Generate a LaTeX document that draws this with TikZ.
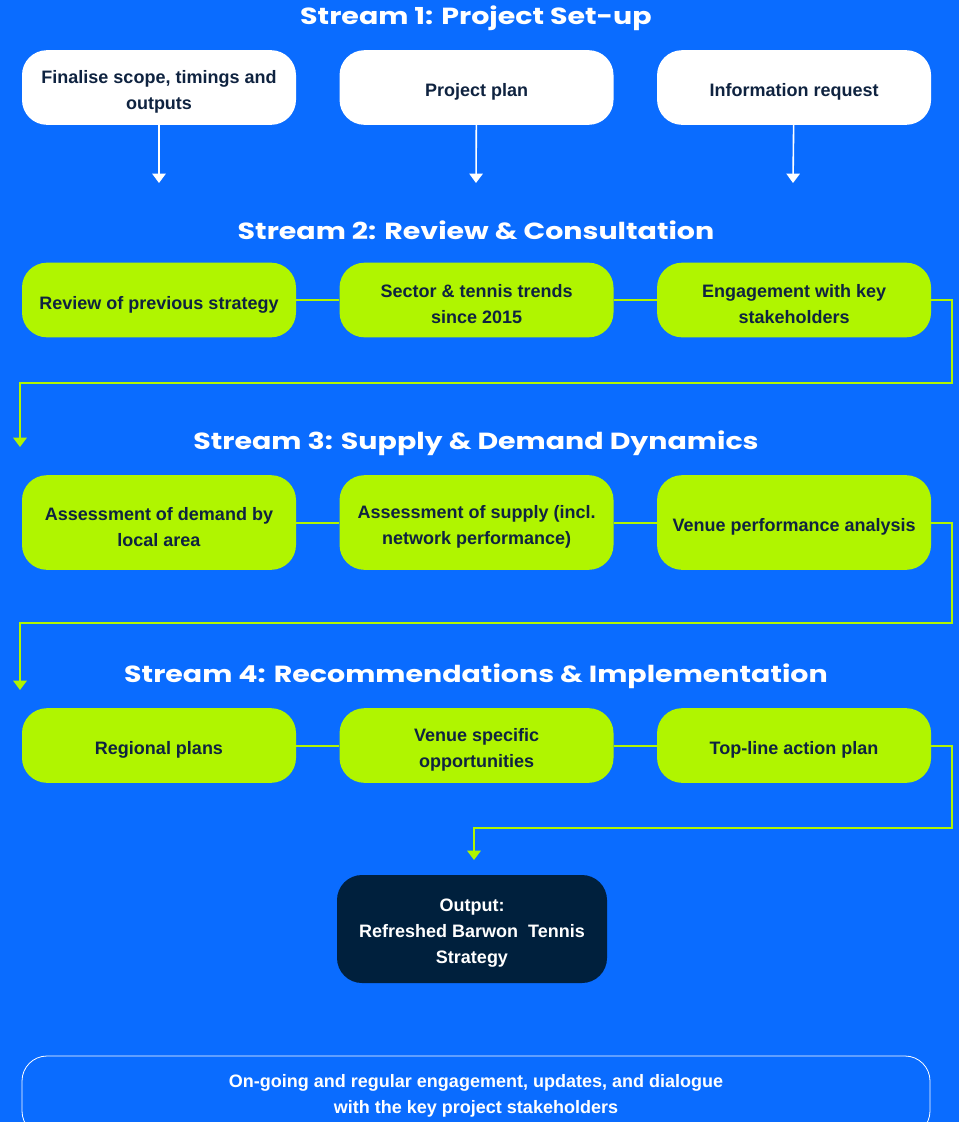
\documentclass[tikz,border=0pt]{standalone}
\usepackage{fontspec}
\setmainfont{Liberation Sans}
\newfontfamily\titlefont{Poppins}[BoldFeatures={FakeStretch=1.22}]
\usetikzlibrary{arrows.meta, positioning}

\definecolor{bgblue}{HTML}{0A6CFF}
\definecolor{lime}{HTML}{B0F500}
\definecolor{navy}{HTML}{0F2340}
\definecolor{outnavy}{HTML}{00203D}
\newcommand\lift{\rule{0pt}{16pt}}

\begin{document}
\begin{tikzpicture}[x=0.75pt, y=-0.75pt,
node distance = 32.25pt,
every node/.style = {rounded corners=18.75pt,
                     inner sep=0pt, align=center,
                     font=\bfseries\fontsize{13.5}{19.5}\selectfont},
box/.style   = {fill=white, text=navy,
                minimum width=205.5pt, minimum height=56pt,
                execute at begin node={\rule{0pt}{17pt}}},
greenbox/.style = {box, fill=lime},
title/.style = {text=white, font=\titlefont\bfseries\fontsize{17.5}{20}\selectfont},
tip/.style   = {-{Triangle[width=10pt,length=7pt]}},
flow/.style  = {draw=white, fill=white, line width=1.2pt, tip},
link/.style  = {draw=lime, line width=1.5pt},
                    ]
%---
\fill[bgblue] (0,0) rectangle (959,1122);
\useasboundingbox (0,0) rectangle (959,1122);
%------- stream 1
\node (title1) [title] at (476,18)                {Stream 1: Project Set-up};
\node (scope)  [box] at (159,87.5)                {\lift Finalise scope, timings and\\outputs};
\node (plan)   [box, right=of scope]              {Project plan};
\node (inforeq)[box, right=of plan]               {Information request};
%
\coordinate (end1) at (159,183);
\coordinate (end2) at (476,183);
\coordinate (end3) at (793,183);
\path[flow]
        (scope)   edge (end1)
        (plan)    edge (end2)
        (inforeq) edge (end3);
%------- stream 2
\node (title2) [title] at (476,230)               {Stream 2: Review \& Consultation};
\node (prevstrat) [greenbox] at (159,300)         {Review of previous strategy};
\node (trends)    [greenbox, right=of prevstrat]  {\lift Sector \& tennis trends\\since 2015};
\node (engage)    [greenbox, right=of trends]     {\lift Engagement with key\\stakeholders};
%------- stream 3
\node (title3) [title] at (476,443)               {Stream 3: Supply \& Demand Dynamics};
\node (demand)    [greenbox, minimum height=71pt] at (159,522.5)
                                                  {\lift Assessment of demand by\\local area};
\node (supply)    [greenbox, minimum height=71pt, right=of demand]
                                                  {\lift Assessment of supply (incl.\\network performance)};
\node (venueperf) [greenbox, minimum height=71pt, right=of supply]
                                                  {Venue performance analysis};
%------- stream 4
\node (title4) [title] at (476,676)               {Stream 4: Recommendations \& Implementation};
\node (regional)   [greenbox] at (159,745.5)      {Regional plans};
\node (venuespec)  [greenbox, right=of regional]  {\lift Venue specific\\opportunities};
\node (actionplan) [greenbox, right=of venuespec] {Top-line action plan};
%------- output
\node (output) [box, fill=outnavy, text=white,
                minimum width=202.5pt, minimum height=81pt] at (472,929)
                                                  {\lift Output:\\Refreshed Barwon~~Tennis\\Strategy};
\node (ongoing) [draw=white, line width=0.6pt, text=white,
                 minimum width=681pt, minimum height=60pt,
                 execute at begin node={\rule{0pt}{17pt}}] at (476,1096)
                 {On-going and regular engagement, updates, and dialogue\\with the key project stakeholders};
%
\coordinate (turn2) at (952,383);
\coordinate (end4)  at (20,447);
\coordinate (turn3) at (952,623);
\coordinate (end5)  at (20,690);
\coordinate (turn4) at (952,828);
\coordinate (end6)  at (474,860);
% edges
\path[link]
        (prevstrat) edge (trends)
        (trends)    edge (engage)
        (demand)    edge (supply)
        (supply)    edge (venueperf)
        (regional)  edge (venuespec)
        (venuespec) edge (actionplan);
\draw[link, tip]  (engage.east) -| (turn2) -| (end4);
\draw[link, tip]  (venueperf.east) -| (turn3) -| (end5);
\draw[link, tip]  (actionplan.east) -| (turn4) -| (end6);
\end{tikzpicture}
\end{document}
